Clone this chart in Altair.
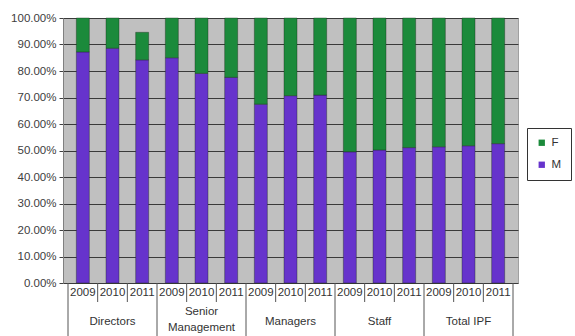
import altair as alt
import pandas as pd

groups = ["Directors", "Senior\nManagement", "Managers", "Staff", "Total IPF"]
years = ["2009", "2010", "2011"]
m_vals = [0.872, 0.886, 0.842, 0.850, 0.791, 0.776, 0.675, 0.707, 0.709,
          0.495, 0.502, 0.511, 0.514, 0.518, 0.526]
totals = [1.0, 1.0, 0.946, 1.0, 1.0, 1.0, 1.0, 1.0, 1.0,
          1.0, 1.0, 1.0, 1.0, 1.0, 1.0]

rows = []
for gi, g in enumerate(groups):
    for yi, y in enumerate(years):
        i = gi * 3 + yi
        m = m_vals[i]
        rows.append({"pos": i + 0.5, "year": y, "group": g, "series": "M",
                     "y0": 0.0, "y1": m})
        rows.append({"pos": i + 0.5, "year": y, "group": g, "series": "F",
                     "y0": m, "y1": totals[i]})
df = pd.DataFrame(rows)

years_df = pd.DataFrame([{"pos": gi * 3 + yi + 0.5, "year": y}
                         for gi in range(len(groups)) for yi, y in enumerate(years)])
sep_df = pd.DataFrame([{"b": float(b)} for b in range(16) if b % 3 != 0])
gsep_df = pd.DataFrame([{"b": float(b)} for b in range(0, 16, 3)])
glab_rows = []
for gi, g in enumerate(groups):
    parts = g.split("\n")
    for li, p in enumerate(parts):
        glab_rows.append({"pos": gi * 3 + 1.5, "label": p, "nlines": len(parts), "line": li})
glab_df = pd.DataFrame(glab_rows)

H = 265
xscale = alt.Scale(domain=[0, 15], nice=False, zero=False)

bars = alt.Chart(df).mark_bar(size=13, stroke="#1d2a1d", strokeWidth=0.4).encode(
    x=alt.X("pos:Q", scale=xscale, axis=None),
    y=alt.Y("y1:Q", scale=alt.Scale(domain=[0, 1], nice=False),
            axis=alt.Axis(format=".2%", values=[i / 10 for i in range(11)],
                          labelFont="Liberation Sans", labelFontSize=11.5,
                          labelColor="#404040", grid=True, gridColor="#3a3a3a",
                          gridWidth=1, domainColor="#808080", tickColor="#404040",
                          tickSize=4, labelPadding=3, title=None)),
    y2="y0:Q",
    color=alt.Color("series:N",
                    scale=alt.Scale(domain=["F", "M"], range=["#1b8a3b", "#6633cc"]),
                    legend=alt.Legend(title=None, orient="none", legendX=464, legendY=110,
                                      symbolType="square", symbolSize=40,
                                      symbolStrokeWidth=0,
                                      labelFont="Liberation Sans", labelFontSize=11.5,
                                      labelColor="#333333", strokeColor="#333333",
                                      fillColor="white", padding=9, rowPadding=9,
                                      labelLimit=60)),
    order=alt.Order("series:N", sort="descending"),
)

year_text = alt.Chart(years_df).mark_text(font="Liberation Sans", fontSize=11.5,
                                          color="#333333", baseline="middle").encode(
    x=alt.X("pos:Q", scale=xscale), y=alt.value(H + 10), text="year:N")

seps = alt.Chart(sep_df).mark_rule(color="#555555", strokeWidth=1).encode(
    x=alt.X("b:Q", scale=xscale), y=alt.value(H), y2=alt.value(H + 19))

gseps = alt.Chart(gsep_df).mark_rule(color="#555555", strokeWidth=1).encode(
    x=alt.X("b:Q", scale=xscale), y=alt.value(H), y2=alt.value(H + 60))

gtext = dict(font="Liberation Sans", fontSize=11.5, color="#333333", baseline="middle")
glab_single = alt.Chart(glab_df).transform_filter("datum.nlines == 1").mark_text(**gtext).encode(
    x=alt.X("pos:Q", scale=xscale), y=alt.value(H + 39), text="label:N")
glab_first = alt.Chart(glab_df).transform_filter(
    "datum.nlines == 2 && datum.line == 0").mark_text(**gtext).encode(
    x=alt.X("pos:Q", scale=xscale), y=alt.value(H + 29), text="label:N")
glab_second = alt.Chart(glab_df).transform_filter(
    "datum.nlines == 2 && datum.line == 1").mark_text(**gtext).encode(
    x=alt.X("pos:Q", scale=xscale), y=alt.value(H + 45), text="label:N")

chart = alt.layer(bars, year_text, seps, gseps, glab_single, glab_first, glab_second).properties(
    width=455, height=H,
    autosize=alt.AutoSizeParams(type="none"),
    padding={"left": 63, "top": 18, "right": 57, "bottom": 53},
    background="white",
).configure_view(fill="#c0c0c0", stroke="#a0a0a0", strokeWidth=1)

chart.save("out.html", embed_options={"renderer": "svg", "actions": False})
